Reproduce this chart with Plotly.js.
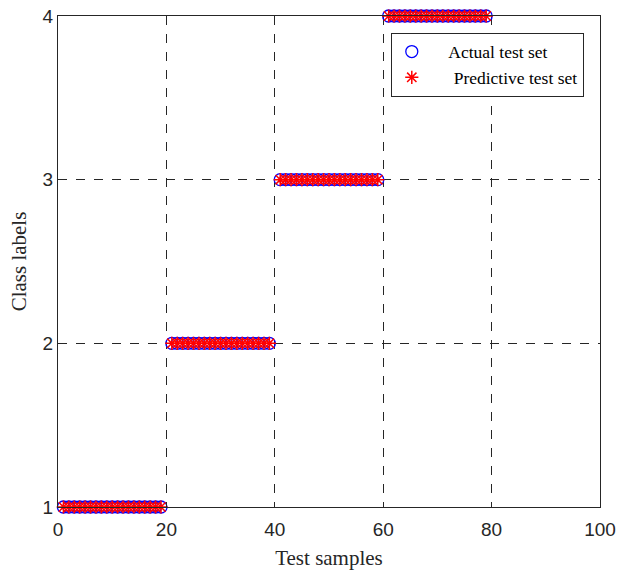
<!DOCTYPE html>
<html>
<head>
<meta charset="utf-8">
<script src="https://cdn.plot.ly/plotly-3.0.1.min.js"></script>
<style>html,body{margin:0;padding:0;background:#fff;}#chart{width:626px;height:570px;}</style>
</head>
<body>
<div id="chart"></div>
<script>
// Test sample indices and class labels
const samples = [
  1,2,3,4,5,6,7,8,9,10,11,12,13,14,15,16,17,18,19,
  21,22,23,24,25,26,27,28,29,30,31,32,33,34,35,36,37,38,39,
  41,42,43,44,45,46,47,48,49,50,51,52,53,54,55,56,57,58,59,
  61,62,63,64,65,66,67,68,69,70,71,72,73,74,75,76,77,78,79
];
const actualLabels = [
  1,1,1,1,1,1,1,1,1,1,1,1,1,1,1,1,1,1,1,
  2,2,2,2,2,2,2,2,2,2,2,2,2,2,2,2,2,2,2,
  3,3,3,3,3,3,3,3,3,3,3,3,3,3,3,3,3,3,3,
  4,4,4,4,4,4,4,4,4,4,4,4,4,4,4,4,4,4,4
];
const predictedLabels = [
  1,1,1,1,1,1,1,1,1,1,1,1,1,1,1,1,1,1,1,
  2,2,2,2,2,2,2,2,2,2,2,2,2,2,2,2,2,2,2,
  3,3,3,3,3,3,3,3,3,3,3,3,3,3,3,3,3,3,3,
  4,4,4,4,4,4,4,4,4,4,4,4,4,4,4,4,4,4,4
];
const xTicks = [0,20,40,60,80,100];
const yTicks = [1,2,3,4];

const traces = [
  {
    x: samples, y: actualLabels, mode: 'markers', type: 'scatter',
    name: '    Actual test set',
    marker: {symbol: 'circle-open', size: 12, color: '#0000ff', line: {width: 1.3, color: '#0000ff'}},
    cliponaxis: false
  },
  {
    x: samples, y: predictedLabels, mode: 'markers', type: 'scatter',
    name: '     Predictive test set',
    marker: {symbol: 'asterisk-open', size: 11, color: '#ff0000', line: {width: 1.5, color: '#ff0000'}},
    cliponaxis: false
  }
];

const axisCommon = {
  showline: true, mirror: true, linecolor: '#262626', linewidth: 1,
  ticks: 'inside', ticklen: 5, tickcolor: '#262626',
  showgrid: true, gridcolor: '#262626', griddash: 'dash', gridwidth: 1,
  zeroline: false,
  tickfont: {family: 'Liberation Sans, Arial, sans-serif', size: 19, color: '#262626'}
};

const layout = {
  width: 626, height: 570,
  margin: {l: 58, r: 26, t: 16, b: 63},
  paper_bgcolor: '#fff', plot_bgcolor: '#fff',
  showlegend: true,
  xaxis: Object.assign({}, axisCommon, {
    range: [0, 100], tickvals: xTicks, ticktext: xTicks.map(String),
    ticklabelstandoff: 5,
    title: {text: 'Test samples', standoff: 15, font: {family: 'Liberation Serif, Times New Roman, serif', size: 21, color: '#262626'}}
  }),
  yaxis: Object.assign({}, axisCommon, {
    range: [1, 4], tickvals: yTicks, ticktext: yTicks.map(String),
    title: {text: 'Class labels', standoff: 10, font: {family: 'Liberation Serif, Times New Roman, serif', size: 21, color: '#262626'}}
  }),
  legend: {
    x: 0.614, y: 0.966, xanchor: 'left', yanchor: 'top',
    bgcolor: '#fff', bordercolor: '#262626', borderwidth: 1,
    font: {family: 'Liberation Serif, Times New Roman, serif', size: 17.5, color: '#000'},
    itemwidth: 30, tracegroupgap: 0
  }
};

Plotly.newPlot('chart', traces, layout, {staticPlot: true, displayModeBar: false});
</script>
</body>
</html>
